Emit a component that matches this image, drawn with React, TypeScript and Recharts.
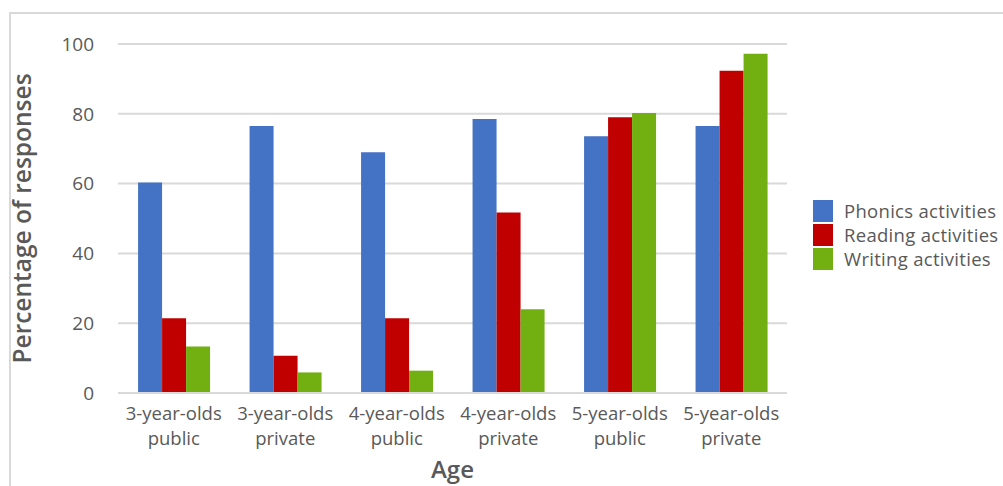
import React from 'react';
import { BarChart, Bar, XAxis, YAxis, CartesianGrid, Label } from 'recharts';

const categories = ['3-year-olds\npublic', '3-year-olds\nprivate', '4-year-olds\npublic', '4-year-olds\nprivate', '5-year-olds\npublic', '5-year-olds\nprivate'];
const phonics = [60.3, 76.5, 69.0, 78.5, 73.6, 76.5];
const reading = [21.4, 10.7, 21.4, 51.7, 79.0, 92.3];
const writing = [13.3, 5.9, 6.4, 24.0, 80.2, 97.2];
const yTicks = [0, 20, 40, 60, 80, 100];

const seriesNames = ['Phonics activities', 'Reading activities', 'Writing activities'];
const colors = ['#4472C4', '#C00000', '#72B011'];

const data = categories.map((c, i) => ({
  name: c,
  phonics: phonics[i],
  reading: reading[i],
  writing: writing[i],
}));

const FONT = '"Open Sans", sans-serif';
const TEXT = '#595959';

const XTick = (props: any) => {
  const { x, y, payload } = props;
  const lines = String(payload.value).split('\n');
  return (
    <g transform={`translate(${x},${y})`}>
      {lines.map((l: string, i: number) => (
        <text key={i} x={0} y={i * 25} dy={19} textAnchor="middle" fill={TEXT} fontSize={18.5} fontFamily={FONT}>
          {l}
        </text>
      ))}
    </g>
  );
};

export default function App() {
  return (
    <div style={{ position: 'absolute', left: 0, top: 0, width: 1003, height: 486, background: '#fff', overflow: 'hidden' }}>
      <div style={{ position: 'absolute', left: 9, top: 12, width: 1010, height: 500, border: '2px solid #d9d9d9', boxSizing: 'border-box' }} />
      <BarChart
        width={1003}
        height={486}
        data={data}
        margin={{ top: 44, right: 216, bottom: 0, left: 0 }}
        barCategoryGap="18%"
        barGap={0}
      >
        <CartesianGrid vertical={false} stroke="#d9d9d9" strokeWidth={2} />
        <XAxis
          dataKey="name"
          height={93}
          axisLine={{ stroke: '#d9d9d9', strokeWidth: 2 }}
          tickLine={false}
          tick={<XTick />}
          interval={0}
        >
          <Label value="Age" position="insideBottom" offset={8} fill={TEXT} fontSize={24} fontWeight={600} fontFamily={FONT} />
        </XAxis>
        <YAxis
          width={118}
          domain={[0, 100]}
          ticks={yTicks}
          axisLine={false}
          tickLine={false}
          tickSize={0}
          tickMargin={24}
          tick={{ fill: TEXT, fontSize: 19, fontFamily: FONT }}
        >
          <Label value="Percentage of responses" angle={-90} position="insideLeft" offset={22} style={{ textAnchor: 'middle' }} fill={TEXT} fontSize={24.5} fontWeight={650} fontFamily={FONT} />
        </YAxis>
        <Bar dataKey="phonics" name={seriesNames[0]} fill={colors[0]} isAnimationActive={false} />
        <Bar dataKey="reading" name={seriesNames[1]} fill={colors[1]} isAnimationActive={false} />
        <Bar dataKey="writing" name={seriesNames[2]} fill={colors[2]} isAnimationActive={false} />
      </BarChart>
      <div style={{ position: 'absolute', left: 813, top: 199, fontFamily: FONT, fontSize: 18.5, color: TEXT }}>
        {seriesNames.map((n, i) => (
          <div key={n} style={{ display: 'flex', alignItems: 'center', height: 24 }}>
            <div style={{ width: 20, height: 22, background: colors[i], marginRight: 11, flexShrink: 0 }} />
            <div style={{ whiteSpace: 'nowrap', height: 24, lineHeight: '24px', overflow: 'visible', letterSpacing: 0.3 }}>{n}</div>
          </div>
        ))}
      </div>
    </div>
  );
}
